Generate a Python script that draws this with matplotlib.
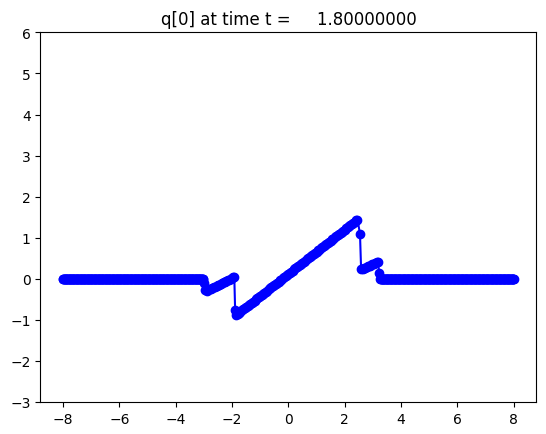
import numpy as np
import matplotlib
matplotlib.use('agg')
import matplotlib.pyplot as plt

# solution q[0], piece by piece
# flat part on the left
x_left = np.linspace(-8.0, -3.03, 320)
q_left = np.zeros(320)

# small dip before the first jump
x_dip = [-3.00, -2.95, -2.90, -2.85, -2.80, -2.75, -2.70, -2.65, -2.60, -2.55,
         -2.50, -2.45, -2.40, -2.35, -2.30, -2.25, -2.20, -2.15, -2.10, -2.05,
         -2.00, -1.95, -1.92]
q_dip = [-0.10, -0.27, -0.30, -0.28, -0.26, -0.25, -0.23, -0.21, -0.19, -0.18,
         -0.16, -0.14, -0.12, -0.11, -0.09, -0.07, -0.05, -0.04, -0.02, 0.00,
         0.02, 0.04, 0.05]

# first jump and long ramp
x_ramp = [-1.89, -1.85, -1.80, -1.75, -1.70, -1.65, -1.60, -1.55, -1.50, -1.45,
          -1.40, -1.35, -1.30, -1.25, -1.20, -1.15, -1.10, -1.05, -1.00, -0.95,
          -0.90, -0.85, -0.80, -0.75, -0.70, -0.65, -0.60, -0.55, -0.50, -0.45,
          -0.40, -0.35, -0.30, -0.25, -0.20, -0.15, -0.10, -0.05, 0.00, 0.05,
          0.10, 0.15, 0.20, 0.25, 0.30, 0.35, 0.40, 0.45, 0.50, 0.55,
          0.60, 0.65, 0.70, 0.75, 0.80, 0.85, 0.90, 0.95, 1.00, 1.05,
          1.10, 1.15, 1.20, 1.25, 1.30, 1.35, 1.40, 1.45, 1.50, 1.55,
          1.60, 1.65, 1.70, 1.75, 1.80, 1.85, 1.90, 1.95, 2.00, 2.05,
          2.10, 2.15, 2.20, 2.25, 2.30, 2.35, 2.40, 2.45]
q_ramp = [-0.77, -0.88, -0.85, -0.83, -0.80, -0.77, -0.74, -0.72, -0.69, -0.66,
          -0.64, -0.61, -0.58, -0.56, -0.53, -0.50, -0.47, -0.45, -0.42, -0.39,
          -0.37, -0.34, -0.31, -0.29, -0.26, -0.23, -0.20, -0.18, -0.15, -0.12,
          -0.10, -0.07, -0.04, -0.02, 0.01, 0.04, 0.07, 0.09, 0.12, 0.15,
          0.17, 0.20, 0.23, 0.26, 0.28, 0.31, 0.34, 0.36, 0.39, 0.42,
          0.44, 0.47, 0.50, 0.53, 0.55, 0.58, 0.61, 0.63, 0.66, 0.69,
          0.71, 0.74, 0.77, 0.80, 0.82, 0.85, 0.88, 0.90, 0.93, 0.96,
          0.98, 1.01, 1.04, 1.07, 1.09, 1.12, 1.15, 1.17, 1.20, 1.23,
          1.25, 1.28, 1.31, 1.34, 1.36, 1.39, 1.42, 1.44]

# second jump and short bump
x_bump = [2.54, 2.58, 2.63, 2.68, 2.73, 2.78, 2.83, 2.88, 2.93, 2.98,
          3.03, 3.08, 3.13, 3.18, 3.22]
q_bump = [1.10, 0.23, 0.24, 0.26, 0.27, 0.29, 0.30, 0.32, 0.33, 0.35,
          0.37, 0.38, 0.40, 0.42, 0.15]

# flat part on the right
x_right = np.linspace(3.26, 8.0, 300)
q_right = np.zeros(300)

t = 1.8

x = np.concatenate([x_left, x_dip, x_ramp, x_bump, x_right])
q = np.concatenate([q_left, q_dip, q_ramp, q_bump, q_right])

fig = plt.figure(figsize=(5.46, 4.35), dpi=100)
ax = fig.add_axes([40.4 / 546, 32.0 / 435, 496 / 546, 369.6 / 435])
ax.plot(x, q, 'bo-')
ax.set_xlim(-8.8, 8.8)
ax.set_ylim(-3, 6)
ax.set_title('q[0] at time t = %14.8f' % t)

fig.savefig('out.png')
